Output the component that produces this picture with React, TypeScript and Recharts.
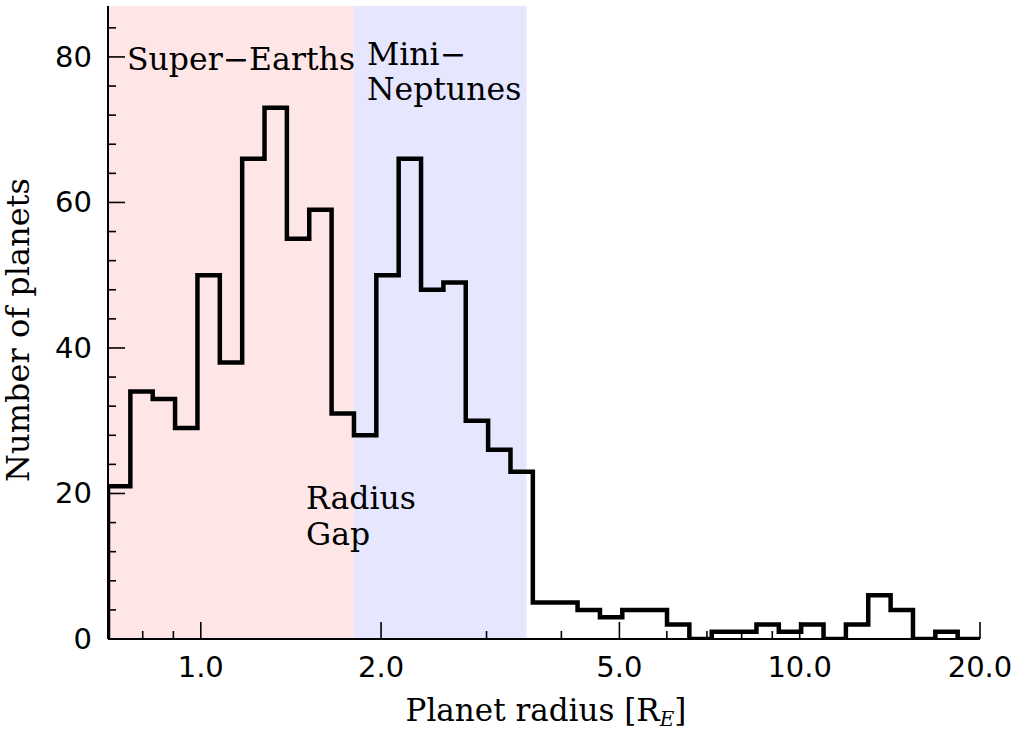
import { ComposedChart, Line, XAxis, YAxis, ReferenceArea } from "recharts";

// log-spaced histogram bin edges, 0.7 .. 20 R_E (39 bins)
const BIN_EDGES = [
  0.7, 0.7628, 0.8313, 0.9059, 0.9873, 1.0759, 1.1725, 1.2777, 1.3924, 1.5174,
  1.6536, 1.802, 1.9638, 2.1401, 2.3322, 2.5415, 2.7697, 3.0183, 3.2893, 3.5845,
  3.9063, 4.257, 4.6391, 5.0556, 5.5094, 6.004, 6.5429, 7.1303, 7.7703, 8.4679,
  9.228, 10.0564, 10.9591, 11.9428, 13.0149, 14.1832, 15.4564, 16.8439, 18.3559, 20.0,
];

const COUNTS = [
  21, 34, 33, 29, 50, 38, 66, 73, 55, 59, 31, 28, 50, 66, 48, 49, 30, 26, 23,
  5, 5, 4, 3, 4, 4, 2, 0, 1, 1, 2, 1, 2, 0, 2, 6, 4, 0, 1, 0,
];

const X_MAJOR = [1, 2, 5, 10, 20];
const X_MAJOR_LABELS = ["1.0", "2.0", "5.0", "10.0", "20.0"];
const X_MINOR = [0.8, 0.9, 3, 4, 6, 7, 8, 9];
const Y_MAJOR = [0, 20, 40, 60, 80];
const Y_MINOR = [4, 8, 12, 16, 24, 28, 32, 36, 44, 48, 52, 56, 64, 68, 72, 76, 84];

const SUPER_EARTHS = [0.7, 1.8];
const MINI_NEPTUNES = [1.8, 3.5];

const SERIF = "DejaVu Serif";
const SANS = "DejaVu Sans";

const stepData = [
  { r: BIN_EDGES[0], n: 0 },
  ...COUNTS.map((n, i) => ({ r: BIN_EDGES[i], n })),
  { r: BIN_EDGES[BIN_EDGES.length - 1], n: 0 },
];

const MAJOR_LEN = 17;
const MINOR_LEN = 8;

// side: where the axis sits; ticks point into the plot
function Tick(props: any) {
  const { x, y, payload, side } = props;
  const v = payload.value;
  const xMajorIdx = X_MAJOR.indexOf(v);
  const isMajor = side === "bottom" || side === "top" ? xMajorIdx >= 0 : Y_MAJOR.includes(v);
  const len = isMajor ? MAJOR_LEN : MINOR_LEN;
  let line;
  if (side === "bottom") line = <line x1={x} x2={x} y1={y} y2={y - len} />;
  else if (side === "top") line = <line x1={x} x2={x} y1={y} y2={y + len} />;
  else if (side === "left") line = <line x1={x} x2={x + len} y1={y} y2={y} />;
  else line = <line x1={x} x2={x - len} y1={y} y2={y} />;
  return (
    <g>
      <g stroke="#000" strokeWidth={1.6}>{line}</g>
      {side === "bottom" && isMajor && (
        <text x={x} y={y + 28} textAnchor="middle" dominantBaseline="central"
          style={{ fontFamily: SANS, fontSize: 29 }} fill="#000">
          {X_MAJOR_LABELS[xMajorIdx]}
        </text>
      )}
      {side === "left" && isMajor && (
        <text x={x - 16} y={y} textAnchor="end" dominantBaseline="central"
          style={{ fontFamily: SANS, fontSize: 29 }} fill="#000">
          {v}
        </text>
      )}
    </g>
  );
}

const axisLine = { stroke: "#000", strokeWidth: 2 };
const serifStyle = { fontFamily: SERIF, fontSize: 31.5 };

export default function App() {
  const xTicks = [...X_MAJOR, ...X_MINOR];
  const yTicks = [...Y_MAJOR, ...Y_MINOR];
  return (
    <div style={{ position: "absolute", left: 0, top: 0, width: 1017, height: 735, background: "#fff" }}>
      <ComposedChart width={1017} height={735} data={stepData}
        margin={{ top: 6, right: 37, bottom: 36, left: 0 }}>
        <XAxis xAxisId="b" dataKey="r" type="number" scale="log" domain={[0.7, 20]}
          allowDataOverflow ticks={xTicks} interval={0} tickSize={0} tickMargin={0}
          height={60} axisLine={axisLine} tickLine={false} tick={<Tick side="bottom" />} />
        <XAxis xAxisId="t" orientation="top" dataKey="r" type="number" scale="log"
          domain={[0.7, 20]} allowDataOverflow ticks={xTicks} interval={0} tickSize={0}
          tickMargin={0} height={0} axisLine={axisLine} tickLine={false} tick={<Tick side="top" />} />
        <YAxis yAxisId="l" type="number" domain={[0, 87]} allowDataOverflow ticks={yTicks}
          interval={0} tickSize={0} tickMargin={0} width={108} axisLine={axisLine}
          tickLine={false} tick={<Tick side="left" />} />
        <YAxis yAxisId="r" orientation="right" type="number" domain={[0, 87]} allowDataOverflow
          ticks={yTicks} interval={0} tickSize={0} tickMargin={0} width={0} axisLine={axisLine}
          tickLine={false} tick={<Tick side="right" />} />
        <ReferenceArea xAxisId="b" yAxisId="l" x1={SUPER_EARTHS[0]} x2={SUPER_EARTHS[1]}
          fill="#ffe6e6" fillOpacity={1} stroke="none" />
        <ReferenceArea xAxisId="b" yAxisId="l" x1={MINI_NEPTUNES[0]} x2={MINI_NEPTUNES[1]}
          fill="#e6e6ff" fillOpacity={1} stroke="none" />
        <Line xAxisId="b" yAxisId="l" dataKey="n" type="stepAfter" stroke="#000"
          strokeWidth={4.5} dot={false} activeDot={false} isAnimationActive={false} />
      </ComposedChart>
      <svg width={1017} height={735} style={{ position: "absolute", left: 0, top: 0, pointerEvents: "none" }}>
        <g fill="#000">
          <text x={127} y={70} style={serifStyle}>Super−Earths</text>
          <text x={367} y={65} style={serifStyle}>Mini−</text>
          <text x={367} y={100} style={serifStyle}>Neptunes</text>
          <text x={306} y={509} style={serifStyle}>Radius</text>
          <text x={306} y={545} style={serifStyle}>Gap</text>
        </g>
        <text x={546} y={721} textAnchor="middle" style={{ fontFamily: SERIF, fontSize: 31 }} fill="#000">
          Planet radius [R<tspan style={{ fontStyle: "italic", fontSize: 20 }} dy={5}>E</tspan><tspan dy={-5}>]</tspan>
        </text>
        <text transform="translate(29,330) rotate(-90)" textAnchor="middle"
          style={{ fontFamily: SERIF, fontSize: 32 }} fill="#000">
          Number of planets
        </text>
      </svg>
    </div>
  );
}
